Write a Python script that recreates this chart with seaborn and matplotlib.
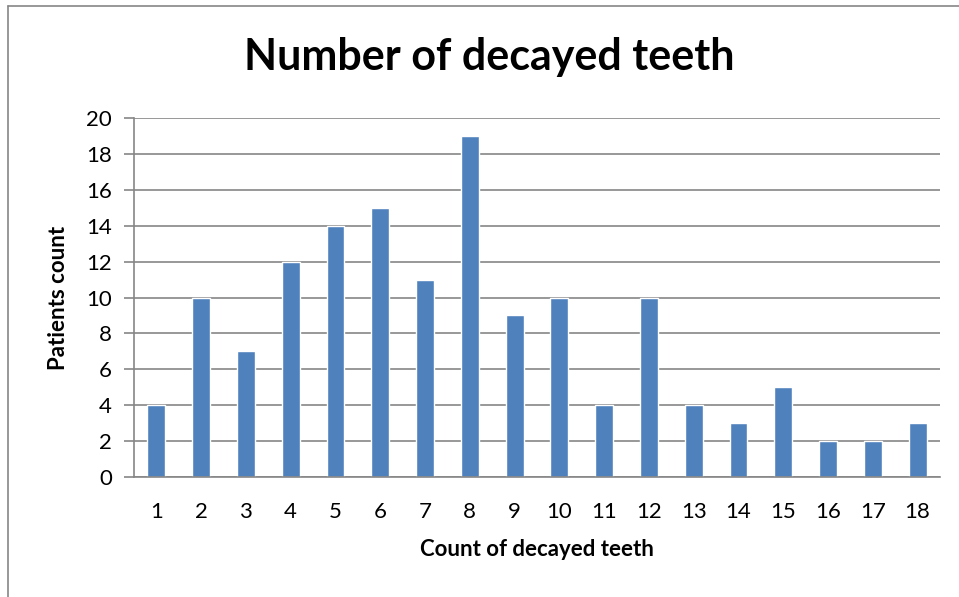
import matplotlib
matplotlib.use("Agg")
import matplotlib.pyplot as plt
import seaborn as sns
import pandas as pd
from matplotlib.lines import Line2D

# decayed teeth count -> number of patients
teeth = [str(i) for i in range(1, 19)]
patients = [4, 10, 7, 12, 14, 15, 11, 19, 9, 10, 4, 10, 4, 3, 5, 2, 2, 3]
yticks = list(range(0, 21, 2))

df = pd.DataFrame({'teeth': teeth, 'patients': patients})

sns.set_theme(style="white")
plt.rcParams['font.family'] = ['Lato', 'DejaVu Sans']
plt.rcParams['text.color'] = 'black'
plt.rcParams['axes.labelcolor'] = 'black'
plt.rcParams['xtick.color'] = 'black'
plt.rcParams['ytick.color'] = 'black'

fig = plt.figure(figsize=(9.59, 5.97), dpi=100)
ax = fig.add_axes([0.1397, 0.201, 0.8405, 0.6013])

sns.barplot(data=df, x='teeth', y='patients', color='#4F81BD', saturation=1,
            width=0.4, ax=ax)

ax.set_ylim(0, 20)
ax.set_xlim(-0.5, 17.5)
ax.set_yticks(yticks)
ax.yaxis.grid(True, color='#868686', lw=1.2)
ax.set_axisbelow(True)
for s in ['top', 'right']:
    ax.spines[s].set_visible(False)
for s in ['left', 'bottom']:
    ax.spines[s].set_color('#868686')
    ax.spines[s].set_linewidth(1.2)
ax.tick_params(axis='y', which='major', left=True, length=7, width=1.2,
               color='#868686', labelcolor='black', labelsize=16, pad=9)
ax.tick_params(axis='x', bottom=False, labelsize=16, pad=12, labelcolor='black')

ax.set_xlabel('Count of decayed teeth', fontsize=16, fontweight='bold', labelpad=12)
ax.set_ylabel('Patients count', fontsize=16, fontweight='bold', labelpad=12)

fig.text(0.51, 0.905, 'Number of decayed teeth', ha='center', va='center',
         fontsize=31, fontweight='bold')

# chart area border (left and top edges visible)
fig.add_artist(Line2D([8/959, 8/959], [0, 1 - 6/597], color='#868686', lw=1.2,
                      transform=fig.transFigure))
fig.add_artist(Line2D([8/959, 1], [1 - 6/597, 1 - 6/597], color='#868686', lw=1.2,
                      transform=fig.transFigure))

plt.savefig('out.png', dpi=100)
